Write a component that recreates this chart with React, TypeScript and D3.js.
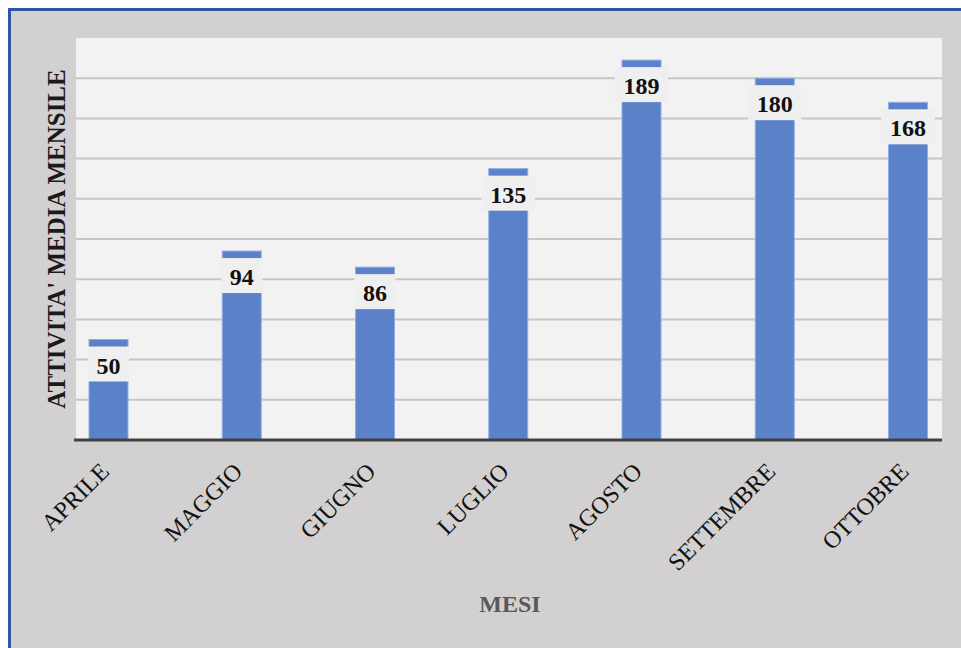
import React from 'react';
import * as d3 from 'd3';

const months = ['APRILE', 'MAGGIO', 'GIUGNO', 'LUGLIO', 'AGOSTO', 'SETTEMBRE', 'OTTOBRE'];
const values = [50, 94, 86, 135, 189, 180, 168];
const gridTicks = [20, 40, 60, 80, 100, 120, 140, 160, 180];

const W = 953;
const H = 640;
const plot = { left: 68, top: 30, right: 934, bottom: 432 };
const font = '"Liberation Serif", "Times New Roman", serif';

const App: React.FC = () => {
  const x = d3.scalePoint<string>()
    .domain(months)
    .range([plot.left + 32.5, plot.right - 34]);

  const y = d3.scaleLinear()
    .domain([0, 200])
    .range([plot.bottom, plot.top]);

  const barW = 39;
  const cy = (plot.top + plot.bottom) / 2;

  return (
    <svg
      width={W}
      height={H}
      style={{ display: 'block', position: 'fixed', left: 8, top: 8 }}
      fontFamily={font}
    >
      <rect x={0} y={0} width={W} height={H} fill="#d2d0d1" />
      {/* frame border, left and top only */}
      <rect x={0} y={0} width={W} height={3} fill="#2f54a0" />
      <rect x={0} y={0} width={3} height={H} fill="#2f54a0" />

      <rect
        x={plot.left}
        y={plot.top}
        width={plot.right - plot.left}
        height={plot.bottom - plot.top}
        fill="#f2f2f2"
      />

      {/* gridlines */}
      {gridTicks.map(t => (
        <line
          key={t}
          x1={plot.left}
          x2={plot.right}
          y1={y(t)}
          y2={y(t)}
          stroke="#c6c6c6"
          strokeWidth={2}
        />
      ))}

      {/* bars */}
      {months.map((m, i) => {
        const cx = x(m) as number;
        const top = y(values[i]);
        const label = String(values[i]);
        const boxW = label.length * 12.5 + 16;
        return (
          <g key={m}>
            <rect
              x={cx - barW / 2}
              y={top}
              width={barW}
              height={plot.bottom - top}
              fill="#5b81c9"
              stroke="#8eaee6"
              strokeWidth={1}
            />
            <rect
              x={cx - boxW / 2}
              y={top + 7}
              width={boxW}
              height={35}
              fill="#efefef"
            />
            <text
              x={cx}
              y={top + 34}
              textAnchor="middle"
              fontSize={24}
              fontWeight={700}
              fill="#111"
            >
              {label}
            </text>
          </g>
        );
      })}

      {/* baseline */}
      <line
        x1={plot.left - 2}
        x2={plot.right}
        y1={plot.bottom}
        y2={plot.bottom}
        stroke="#404040"
        strokeWidth={3}
      />

      {/* x tick labels */}
      {months.map(m => (
        <text
          key={m}
          transform={`translate(${(x(m) as number) + 2},${plot.bottom + 33}) rotate(-45)`}
          textAnchor="end"
          fontSize={24}
          fill="#111"
        >
          {m}
        </text>
      ))}

      {/* axis titles */}
      <text
        transform={`translate(${57},${cy}) rotate(-90)`}
        textAnchor="middle"
        fontSize={25}
        fontWeight={700}
        fill="#1a1a1a"
      >
        ATTIVITA' MEDIA MENSILE
      </text>
      <text
        x={(plot.left + plot.right) / 2 + 1}
        y={604}
        textAnchor="middle"
        fontSize={24}
        fontWeight={700}
        fill="#595959"
      >
        MESI
      </text>
    </svg>
  );
};

export default App;
